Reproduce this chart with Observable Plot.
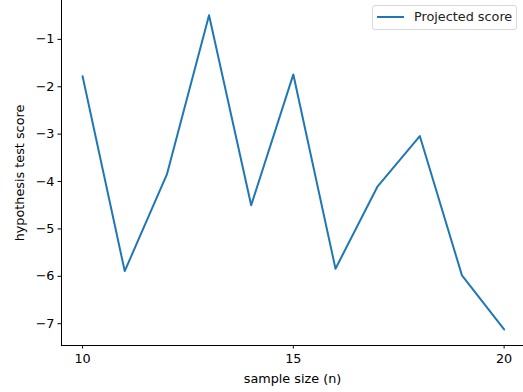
<!DOCTYPE html>
<html>
<head>
<meta charset="utf-8">
<script src="https://cdn.jsdelivr.net/npm/d3@7"></script>
<script src="https://cdn.jsdelivr.net/npm/@observablehq/plot@0.6"></script>
<style>
  body { margin: 0; background: #fff; }
  #wrap { position: relative; width: 523px; height: 392px; font-family: "DejaVu Sans", sans-serif; }
  #legend {
    position: absolute; left: 372px; top: 5px; width: 145px; height: 25px;
    border: 1px solid #d9d9d9; border-radius: 3px; background: rgba(255,255,255,0.8);
    box-sizing: border-box; font-size: 12.8px; color: #222;
  }
  #legend .sw { position: absolute; left: 4px; top: 10px; width: 27px; height: 0; border-top: 2px solid #1f77b4; }
  #legend .lb { position: absolute; left: 41px; top: 3px; white-space: nowrap; }
</style>
</head>
<body>
<div id="wrap"><div id="legend"><div class="sw"></div><div class="lb"></div></div></div>
<script>
const sampleSizes = [10, 11, 12, 13, 14, 15, 16, 17, 18, 19, 20];
const scores = [-1.78, -5.89, -3.85, -0.49, -4.50, -1.74, -5.84, -4.10, -3.04, -5.98, -7.12];
const seriesName = "Projected score";
const xTicks = [10, 15, 20];
const yTicks = [-7, -6, -5, -4, -3, -2, -1];
const xLabel = "sample size (n)";
const yLabel = "hypothesis test score";

const data = sampleSizes.map((n, i) => ({n, score: scores[i]}));
const xDomain = [9.5, 20.46];
const yDomain = [-7.46, -0.18];

const chart = Plot.plot({
  width: 523,
  height: 392,
  marginLeft: 61,
  marginRight: 0,
  marginTop: 0,
  marginBottom: 47,
  style: {fontFamily: "DejaVu Sans, sans-serif", fontSize: "12.8px", color: "#000", background: "#fff", overflow: "visible"},
  x: {domain: xDomain},
  y: {domain: yDomain},
  marks: [
    Plot.axisX({ticks: xTicks, tickSize: 3.5, tickPadding: 5, label: xLabel, labelAnchor: "center", labelArrow: "none", labelOffset: 37}),
    Plot.axisY({ticks: yTicks, tickSize: 3.5, tickPadding: 3.5, label: yLabel, labelAnchor: "center", labelArrow: "none", labelOffset: 47}),
    Plot.ruleX([xDomain[0]], {stroke: "#000", strokeWidth: 1}),
    Plot.ruleY([yDomain[0]], {stroke: "#000", strokeWidth: 1}),
    Plot.line(data, {x: "n", y: "score", stroke: "#1f77b4", strokeWidth: 2})
  ]
});
const wrap = document.getElementById("wrap");
wrap.insertBefore(chart, wrap.firstChild);
document.querySelector("#legend .lb").textContent = seriesName;
</script>
</body>
</html>
